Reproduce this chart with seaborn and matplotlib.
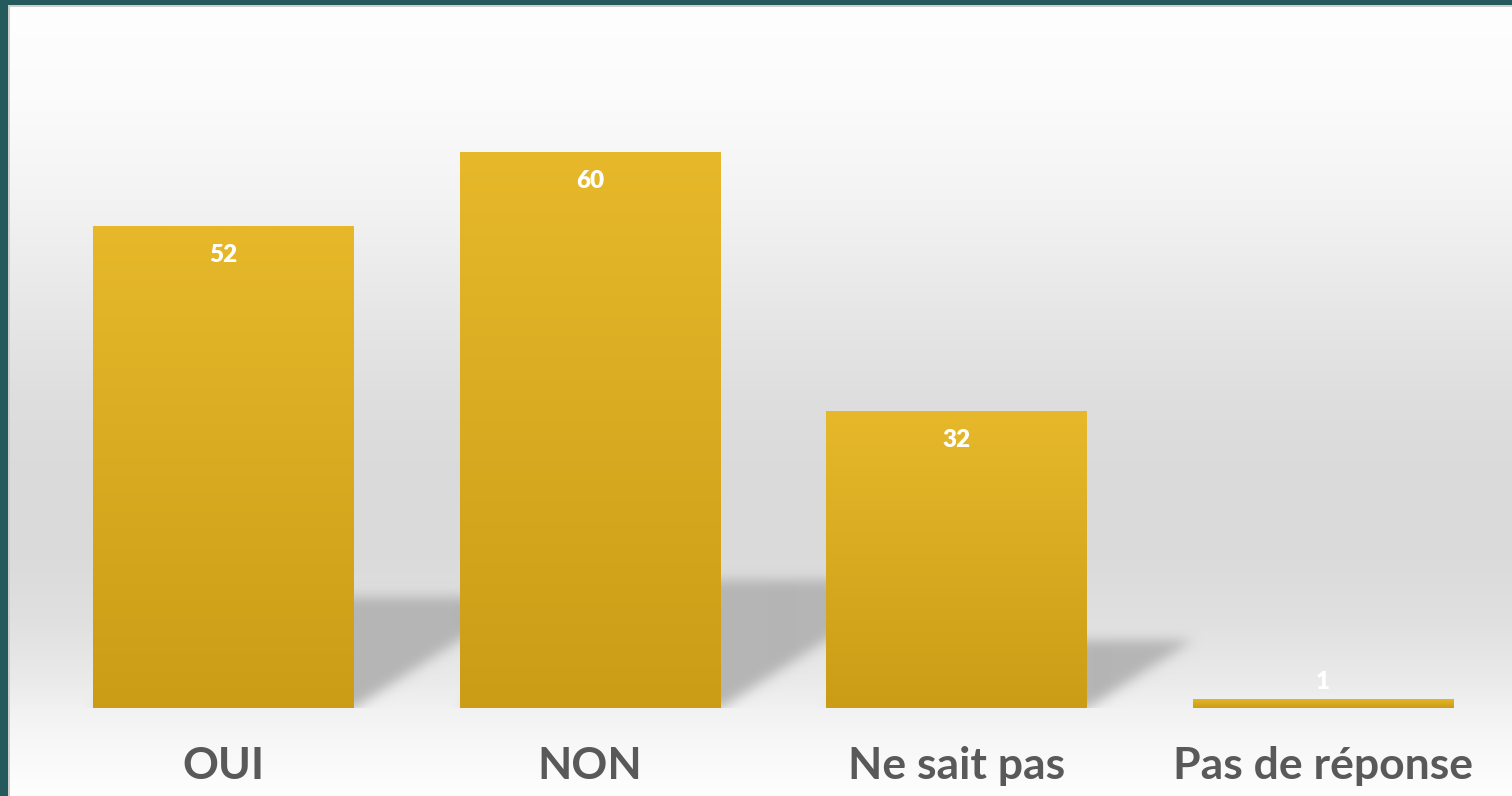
import numpy as np
import matplotlib
matplotlib.use("Agg")
import matplotlib.pyplot as plt
from matplotlib.colors import to_rgb
import seaborn as sns

# Survey answers and their counts
categories = ["OUI", "NON", "Ne sait pas", "Pas de réponse"]
values = [52, 60, 32, 1]

W_PX, H_PX = 1512, 796
DPI = 100

sns.set_theme(style="white")
plt.rcParams["font.family"] = ["Lato", "DejaVu Sans"]

fig = plt.figure(figsize=(W_PX / DPI, H_PX / DPI), dpi=DPI)
fig.patch.set_facecolor("#245a5c")

# Thin grey rim inside the dark frame
rim = fig.add_axes([8 / W_PX, 0, 1504 / W_PX, 791 / H_PX])
rim.set_axis_off()
rim.add_patch(plt.Rectangle((0, 0), 1, 1, transform=rim.transAxes, color="#cfcfcf"))

# Slide background: white at the top, grey band in the middle, lighter at the floor
bg = fig.add_axes([10 / W_PX, 0, 1502 / W_PX, 789 / H_PX])
bg.set_axis_off()
stops_y = np.array([7, 100, 200, 300, 400, 480, 560, 620, 680, 710, 740, 796])
stops_g = np.array([254, 251, 243, 232, 222, 218, 219, 224, 234, 242, 247, 254])
rows = np.arange(7, 796)
grey = np.interp(rows, stops_y, stops_g) / 255.0
grad = np.repeat(grey[:, None], 2, axis=1)
bg.imshow(np.dstack([grad, grad, grad]), aspect="auto", extent=[0, 1, 0, 1],
          interpolation="bilinear")
bg.set_xlim(0, 1)
bg.set_ylim(0, 1)

# Plot area: baseline at 708 px, one category every ~366.6 px
px_per_unit = 9.267
ax_left, ax_right = 40.2, 1506.3
ax_bottom_px, ax_top_px = 708, 10
ax_w = ax_right - ax_left
ax_h = ax_bottom_px - ax_top_px
ax = fig.add_axes([ax_left / W_PX, (H_PX - ax_bottom_px) / H_PX, ax_w / W_PX, ax_h / H_PX])
ax.patch.set_alpha(0)
ymax = ax_h / px_per_unit
bar_width = 0.712

sns.barplot(x=categories, y=values, width=bar_width, color="#d9ab20",
            saturation=1, linewidth=0, edgecolor="none", ax=ax, zorder=3)
ax.set_xlim(-0.5, 3.5)
ax.set_ylim(0, ymax)

# Soft cast shadows falling back to the right of each bar
Wi, Hi = int(round(ax_w)), int(round(ax_h))
mask = np.zeros((Hi, Wi))
cat_px = ax_w / 4.0
yy = np.arange(Hi)[::-1] + 0.5  # height above baseline, px, for each image row
xx = np.arange(Wi) + 0.5
for i, v in enumerate(values):
    x0 = (i + 0.5 - bar_width / 2) * cat_px
    x1 = (i + 0.5 + bar_width / 2) * cat_px
    s = 0.23 * v * px_per_unit
    if s < 3:
        continue
    dx = 1.55 * s
    for r in range(Hi):
        h = yy[r]
        if h > s:
            continue
        sh = dx * h / s
        mask[r, (xx >= x0 + sh) & (xx <= x1 + sh)] = 1.0

def blur(a, sigma):
    k = np.arange(-3 * sigma, 3 * sigma + 1)
    ker = np.exp(-0.5 * (k / sigma) ** 2)
    ker /= ker.sum()
    a = np.apply_along_axis(lambda m: np.convolve(m, ker, mode="same"), 1, a)
    a = np.apply_along_axis(lambda m: np.convolve(m, ker, mode="same"), 0, a)
    return a

mask = blur(mask, 6)
shadow = np.zeros((Hi, Wi, 4))
shadow[..., :3] = 181 / 255.0
shadow[..., 3] = np.clip(mask, 0, 1)
ax.imshow(shadow, extent=[-0.5, 3.5, 0, ymax], aspect="auto", zorder=1,
          interpolation="bilinear")

# Gold vertical gradient on every bar
top_c = np.array(to_rgb("#e6b82a"))
bot_c = np.array(to_rgb("#cb9d17"))
t = np.linspace(0, 1, 256)[:, None]
bar_grad = (top_c[None, :] * (1 - t) + bot_c[None, :] * t)[:, None, :]
for patch in ax.patches:
    x0 = patch.get_x()
    w = patch.get_width()
    h = patch.get_height()
    im = ax.imshow(bar_grad, extent=[x0, x0 + w, 0, h], aspect="auto",
                   zorder=4, interpolation="bilinear")
    im.set_clip_path(patch)

ax.set_xlim(-0.5, 3.5)
ax.set_ylim(0, ymax)

# Value labels near the top of each bar (above it when the bar is too short)
pt_per_px = 72.0 / DPI
for i, v in enumerate(values):
    if v * px_per_unit > 40:
        off = -29 * pt_per_px
    else:
        off = 17 * pt_per_px
    ax.annotate(str(v), xy=(i, v), xytext=(0, off), textcoords="offset points",
                ha="center", va="center", color="white", fontsize=17.5,
                fontweight="heavy", zorder=6)

for sp in ax.spines.values():
    sp.set_visible(False)
ax.set_yticks([])
ax.set_ylabel("")
ax.set_xlabel("")
ax.set_xticks(range(len(categories)))
ax.set_xticklabels(categories, fontsize=32, fontweight="bold", color="#595959",
                   va="baseline")
ax.tick_params(axis="x", length=0, pad=71 * pt_per_px)
ax.grid(False)

fig.savefig("out.png", dpi=DPI, facecolor=fig.get_facecolor())
